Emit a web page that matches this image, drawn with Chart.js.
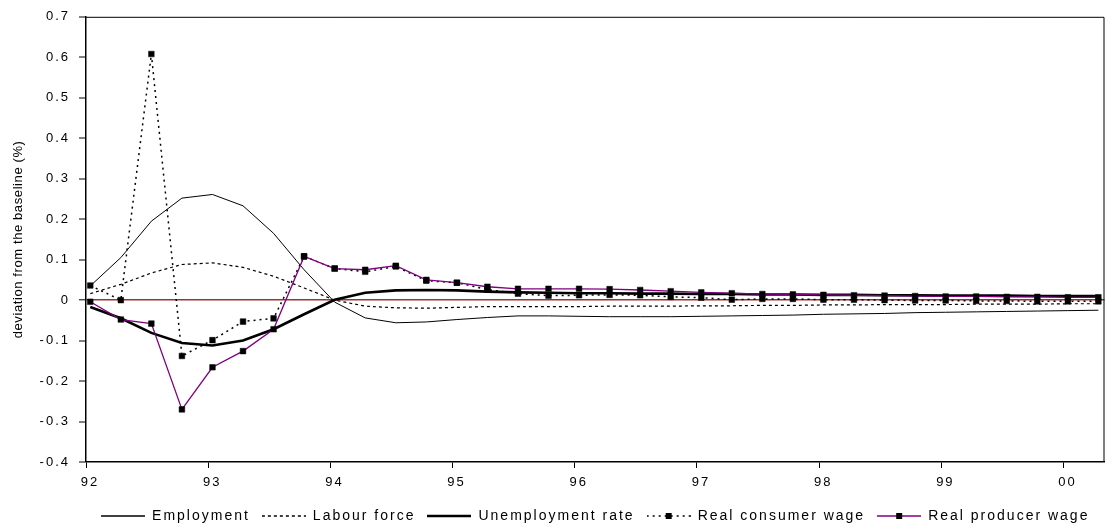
<!DOCTYPE html>
<html>
<head>
<meta charset="utf-8">
<script src="https://cdn.jsdelivr.net/npm/chart.js@4/dist/chart.umd.min.js"></script>
<style>
  html, body { margin: 0; padding: 0; background: #fff; }
</style>
</head>
<body>
<canvas id="chart" width="1109" height="529"></canvas>
<script>
// Quarters shown on the chart (92Q1 .. 00Q2)
const periods = [
  '92Q1', '92Q2', '92Q3', '92Q4', '93Q1', '93Q2', '93Q3', '93Q4',
  '94Q1', '94Q2', '94Q3', '94Q4', '95Q1', '95Q2', '95Q3', '95Q4',
  '96Q1', '96Q2', '96Q3', '96Q4', '97Q1', '97Q2', '97Q3', '97Q4',
  '98Q1', '98Q2', '98Q3', '98Q4', '99Q1', '99Q2', '99Q3', '99Q4',
  '00Q1', '00Q2'
];

// Deviation from the baseline (%)
const employment = [
  0.035, 0.105, 0.195, 0.252, 0.261, 0.233, 0.165, 0.075,
  -0.005, -0.044, -0.056, -0.054, -0.048, -0.043, -0.039, -0.039,
  -0.040, -0.041, -0.041, -0.041, -0.040, -0.039, -0.038, -0.037,
  -0.035, -0.034, -0.033, -0.031, -0.030, -0.029, -0.028, -0.027,
  -0.026, -0.025
];
const labourForce = [
  0.016, 0.039, 0.067, 0.088, 0.092, 0.081, 0.059, 0.030,
  0.000, -0.015, -0.019, -0.020, -0.018, -0.016, -0.016, -0.016,
  -0.016, -0.015, -0.015, -0.015, -0.014, -0.014, -0.013, -0.013,
  -0.012, -0.012, -0.011, -0.011, -0.011, -0.010, -0.010, -0.010,
  -0.009, -0.009
];
const unemploymentRate = [
  -0.017, -0.045, -0.081, -0.106, -0.112, -0.100, -0.072, -0.035,
  0.001, 0.018, 0.024, 0.025, 0.024, 0.021, 0.019, 0.018,
  0.017, 0.017, 0.016, 0.016, 0.015, 0.015, 0.014, 0.014,
  0.013, 0.013, 0.012, 0.012, 0.011, 0.011, 0.011, 0.010,
  0.010, 0.010
];
const consumerWage = [
  0.036, 0.000, 0.608, -0.138, -0.099, -0.053, -0.045, 0.108,
  0.078, 0.070, 0.083, 0.048, 0.043, 0.026, 0.016, 0.011,
  0.012, 0.013, 0.012, 0.008, 0.006, 0.001, 0.003, 0.003,
  0.001, 0.001, 0.000, -0.001, -0.001, -0.002, -0.002, -0.003,
  -0.003, -0.003
];
const producerWage = [
  -0.004, -0.048, -0.058, -0.270, -0.166, -0.126, -0.072, 0.108,
  0.078, 0.075, 0.085, 0.050, 0.043, 0.033, 0.028, 0.028,
  0.028, 0.027, 0.025, 0.022, 0.019, 0.017, 0.015, 0.014,
  0.013, 0.012, 0.011, 0.010, 0.009, 0.009, 0.008, 0.008,
  0.007, 0.007
];

const FONT = 'Liberation Sans, Arial, Helvetica, sans-serif';
const PURPLE = '#800080';
const ZERO_RED = '#993333';

// '93Q2' -> 93.285 (point sits a little after the start of the quarter)
function periodToX(p) {
  let year = Number(p.slice(0, 2));
  if (year < 50) year += 100;
  return year + (Number(p[3]) - 1) / 4 + 0.035;
}

function toPoints(values) {
  return periods.map((p, i) => ({ x: periodToX(p), y: values[i] }));
}

// Small canvases used as legend samples (line + optional square marker)
function legendSample(color, width, dash, marker) {
  const c = document.createElement('canvas');
  c.width = 44;
  c.height = 12;
  const g = c.getContext('2d');
  g.strokeStyle = color;
  g.lineWidth = width;
  g.setLineDash(dash);
  g.beginPath();
  g.moveTo(0, 6);
  g.lineTo(44, 6);
  g.stroke();
  if (marker) {
    g.fillStyle = '#000';
    g.fillRect(19, 3, 6, 6);
  }
  return c;
}

const series = [
  { label: 'Employment', data: employment, color: '#000', width: 1, dash: [], marker: false },
  { label: 'Labour force', data: labourForce, color: '#000', width: 1.2, dash: [3, 3], marker: false },
  { label: 'Unemployment rate', data: unemploymentRate, color: '#000', width: 2.6, dash: [], marker: false },
  { label: 'Real consumer wage', data: consumerWage, color: '#000', width: 1.5, dash: [2, 4], marker: true },
  { label: 'Real producer wage', data: producerWage, color: PURPLE, width: 1.3, dash: [], marker: true }
];

const samples = series.map(s => legendSample(s.color, s.width + (s.width < 1.5 ? 0.3 : 0), s.dash, s.marker));

const datasets = series.map((s, i) => ({
  label: s.label,
  data: toPoints(s.data),
  borderColor: s.color,
  borderWidth: s.width,
  borderDash: s.dash,
  tension: 0,
  fill: false,
  pointStyle: 'rect',
  pointRadius: s.marker ? 4 : 0,
  pointBackgroundColor: '#000',
  pointBorderColor: '#000',
  pointBorderWidth: 0.5,
  order: series.length - 1 - i   // later series drawn on top
}));

// Excel-like letter spacing on all text, less on the axis title
const spacingPlugin = {
  id: 'spacing',
  beforeLayout(chart) {
    chart.ctx.letterSpacing = '2px';
  },
  beforeDraw(chart) {
    chart.ctx.letterSpacing = '2px';
    const y = chart.scales.y;
    if (y && !y._titleWrapped) {
      const orig = y.drawTitle.bind(y);
      y.drawTitle = function () {
        this.ctx.letterSpacing = '0.6px';
        orig();
        this.ctx.letterSpacing = '2px';
      };
      y._titleWrapped = true;
    }
  }
};

// Plot frame (top and right edges)
const framePlugin = {
  id: 'frame',
  afterDraw(chart) {
    const { ctx, chartArea: a } = chart;
    ctx.save();
    ctx.strokeStyle = '#000';
    ctx.lineWidth = 1;
    ctx.beginPath();
    ctx.moveTo(a.left, a.top + 0.5);
    ctx.lineTo(a.right - 0.5, a.top + 0.5);
    ctx.lineTo(a.right - 0.5, a.bottom);
    ctx.stroke();
    ctx.restore();
  }
};

new Chart(document.getElementById('chart').getContext('2d'), {
  type: 'line',
  data: { datasets },
  plugins: [spacingPlugin, framePlugin],
  options: {
    responsive: false,
    animation: false,
    events: [],
    layout: { padding: { top: 13, right: 2, left: 0, bottom: -4 } },
    plugins: {
      legend: {
        position: 'bottom',
        fullSize: false,
        labels: {
          usePointStyle: true,
          pointStyleWidth: 44,
          padding: 12,
          color: '#000',
          font: { family: FONT, size: 14 },
          generateLabels: chart => chart.data.datasets.map((ds, i) => ({
            text: ds.label,
            pointStyle: samples[i],
            fillStyle: 'transparent',
            strokeStyle: 'transparent',
            lineWidth: 0,
            hidden: false,
            datasetIndex: i,
            fontColor: '#000'
          }))
        }
      },
      tooltip: { enabled: false }
    },
    scales: {
      x: {
        type: 'linear',
        min: 92,
        max: 100.335,
        afterFit: s => { s.height = 35; },
        border: { color: '#000', width: 1.5 },
        grid: { drawOnChartArea: false, tickLength: 6, tickColor: '#000', tickWidth: 1 },
        ticks: {
          stepSize: 1,
          includeBounds: false,
          maxRotation: 0,
          padding: 7,
          labelOffset: 4,
          color: '#000',
          font: { family: FONT, size: 13 },
          callback: v => String(Math.round(v) % 100).padStart(2, '0')
        }
      },
      y: {
        min: -0.4,
        max: 0.7,
        afterFit: s => { s.width = 86; },
        border: { color: '#000', width: 1.5 },
        grid: {
          color: c => Math.abs(c.tick.value) < 1e-9 ? ZERO_RED : 'rgba(0,0,0,0)',
          lineWidth: c => Math.abs(c.tick.value) < 1e-9 ? 1.6 : 0,
          tickLength: 7,
          tickColor: '#000',
          tickWidth: 1
        },
        ticks: {
          stepSize: 0.1,
          padding: 9,
          color: '#000',
          font: { family: FONT, size: 13 },
          callback: v => Math.abs(v) < 1e-9 ? '0' : v.toFixed(1)
        },
        title: {
          display: true,
          text: 'deviation from the baseline (%)',
          color: '#000',
          font: { family: FONT, size: 13 },
          padding: { top: 11, bottom: 0 }
        }
      }
    }
  }
});
</script>
</body>
</html>
